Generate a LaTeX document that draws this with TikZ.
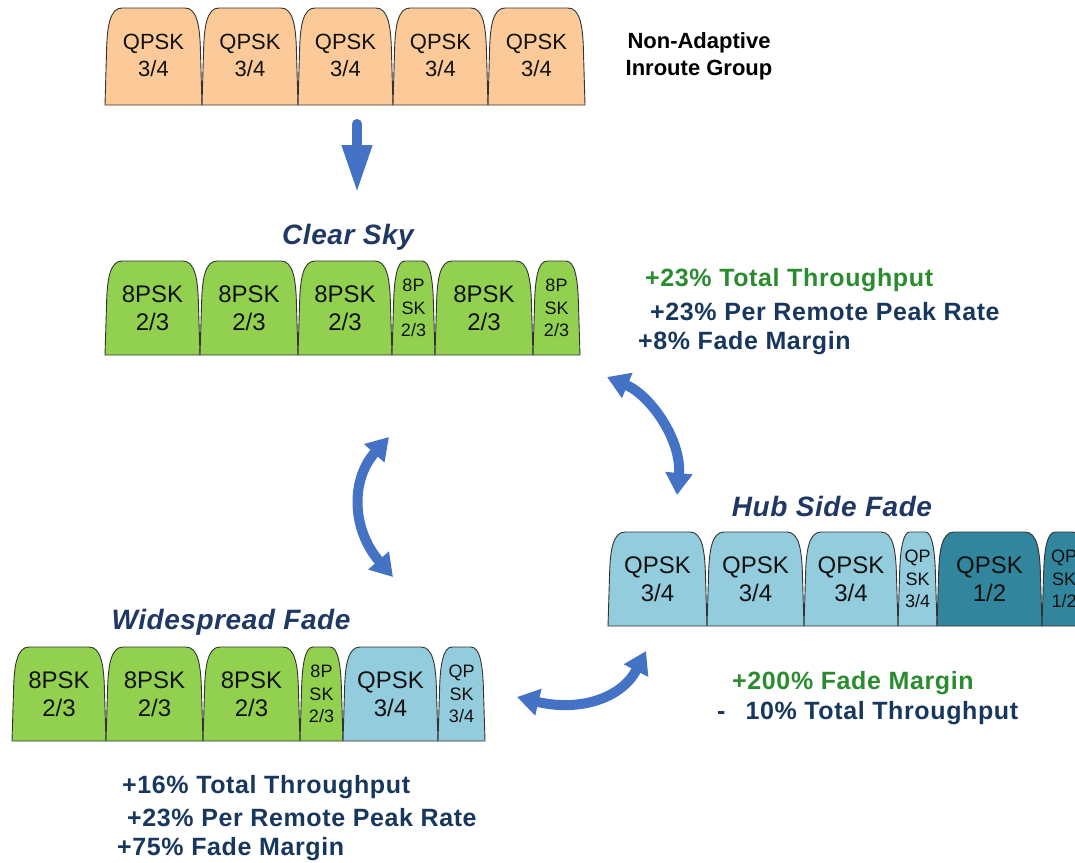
\documentclass[tikz,border=0pt]{standalone}
\usepackage{fontspec}
\setmainfont{Liberation Sans}
\newfontfamily\statfont[LetterSpace=2.5]{Liberation Sans}
\newfontfamily\titlefont[LetterSpace=2]{Liberation Sans}
\usetikzlibrary{arrows.meta}
\definecolor{peach}{HTML}{FCCA98}
\definecolor{sgreen}{HTML}{92D050}
\definecolor{lblue}{HTML}{93CDDD}
\definecolor{dteal}{HTML}{31859C}
\definecolor{slotedge}{HTML}{333333}
\definecolor{arrowblue}{HTML}{4472C4}
\definecolor{titleblue}{HTML}{1F3864}
\definecolor{statblue}{HTML}{17375E}
\definecolor{statgreen}{HTML}{2A8C2F}
\definecolor{slottxt}{HTML}{111111}
\tikzset{
  slotbox/.style={draw=slotedge, line width=0.9pt, line join=round},
  toptxt/.style={inner sep=0pt, align=center, text=slottxt, font=\fontsize{22}{27}\selectfont},
  bigtxt/.style={inner sep=0pt, align=center, text=slottxt, font=\fontsize{24}{28.5}\selectfont},
  smalltxt/.style={inner sep=0pt, align=center, text=slottxt, font=\fontsize{18}{22.5}\selectfont},
  titletxt/.style={inner sep=0pt, text=titleblue, font=\titlefont\bfseries\itshape\fontsize{28}{32}\selectfont},
  statb/.style={inner sep=0pt, anchor=west, text=statblue, font=\statfont\bfseries\fontsize{25}{30}\selectfont},
  statg/.style={statb, text=statgreen},
  blarrow/.style={draw=arrowblue, line width=10pt},
  dbltips/.style={{Triangle[length=22pt,width=26pt]}-{Triangle[length=22pt,width=26pt]}}
}
\newcommand\slot[8]{%
  \draw[slotbox, fill=#6] (#2,#5) -- (#2+1.5,#4+45) .. controls (#2+2,#4+18) and (#2+5,#4) .. ({#2+min(17,0.3*(#3-#2))},#4) -- ({#3-min(17,0.3*(#3-#2))},#4) .. controls (#3-5,#4) and (#3-2,#4+18) .. (#3-1.5,#4+45) -- (#3,#5) -- cycle;
  \node[#8] (#1) at ({(#2+#3)/2},{#4+47}) {#7};
}
\begin{document}
\begin{tikzpicture}[x=1pt,y=-1pt]
\clip (0,0) rectangle (1075,862);
\fill[white] (0,0) rectangle (1075,862);
% Non-adaptive row
\slot{t1}{105}{202}{8}{105}{peach}{QPSK\\3/4}{toptxt}
\slot{t2}{202}{298}{8}{105}{peach}{QPSK\\3/4}{toptxt}
\slot{t3}{298}{393}{8}{105}{peach}{QPSK\\3/4}{toptxt}
\slot{t4}{393}{488}{8}{105}{peach}{QPSK\\3/4}{toptxt}
\slot{t5}{488}{585}{8}{105}{peach}{QPSK\\3/4}{toptxt}
\node[inner sep=0pt, align=center, font=\bfseries\fontsize{22}{27}\selectfont] (nonad) at (699,56) {Non-Adaptive\\Inroute Group};
% Clear sky row
\node[titletxt] (clearsky) at (348,237) {Clear Sky};
\slot{c1}{105}{200}{261}{355}{sgreen}{8PSK\\2/3}{bigtxt}
\slot{c2}{200}{298}{261}{355}{sgreen}{8PSK\\2/3}{bigtxt}
\slot{c3}{298}{392}{261}{355}{sgreen}{8PSK\\2/3}{bigtxt}
\slot{c4}{392}{435}{261}{355}{sgreen}{8P\\SK\\2/3}{smalltxt}
\slot{c5}{435}{533}{261}{355}{sgreen}{8PSK\\2/3}{bigtxt}
\slot{c6}{533}{580}{261}{355}{sgreen}{8P\\SK\\2/3}{smalltxt}
\node[statg] (cs1) at (645,280) {+23\% Total Throughput};
\node[statb] (cs2) at (650,312) {+23\% Per Remote Peak Rate};
\node[statb] (cs3) at (638,343) {+8\% Fade Margin};
% Hub side fade row
\node[titletxt] (hubfade) at (832,506) {Hub Side Fade};
\slot{h1}{608}{707}{532}{626}{lblue}{QPSK\\3/4}{bigtxt}
\slot{h2}{707}{804}{532}{626}{lblue}{QPSK\\3/4}{bigtxt}
\slot{h3}{804}{898}{532}{626}{lblue}{QPSK\\3/4}{bigtxt}
\slot{h4}{898}{937}{532}{626}{lblue}{QP\\SK\\3/4}{smalltxt}
\slot{h5}{937}{1042}{532}{626}{dteal}{QPSK\\1/2}{bigtxt}
\slot{h6}{1042}{1086}{532}{626}{dteal}{QP\\SK\\1/2}{smalltxt}
\node[statg] (hs1) at (732,683) {+200\% Fade Margin};
\node[statb] (hs2) at (717,713) {-\hspace{20pt}10\% Total Throughput};
% Widespread fade row
\node[titletxt] (widefade) at (231,622) {Widespread Fade};
\slot{w1}{12}{106}{647}{741}{sgreen}{8PSK\\2/3}{bigtxt}
\slot{w2}{106}{203}{647}{741}{sgreen}{8PSK\\2/3}{bigtxt}
\slot{w3}{203}{300}{647}{741}{sgreen}{8PSK\\2/3}{bigtxt}
\slot{w4}{300}{343}{647}{741}{sgreen}{8P\\SK\\2/3}{smalltxt}
\slot{w5}{343}{438}{647}{741}{lblue}{QPSK\\3/4}{bigtxt}
\slot{w6}{438}{485}{647}{741}{lblue}{QP\\SK\\3/4}{smalltxt}
\node[statb] (ws1) at (122,787) {+16\% Total Throughput};
\node[statb] (ws2) at (127,818) {+23\% Per Remote Peak Rate};
\node[statb] (ws3) at (117,849) {+75\% Fade Margin};
% Arrows
\coordinate (da) at (357,124);
\coordinate (db) at (357,193);
\draw[blarrow, line cap=round, -{Triangle[length=48pt,width=28pt]}] (da) -- (db);
\coordinate (la) at (389,437);
\coordinate (lb) at (393,577);
\draw[blarrow, dbltips] (la) .. controls (350,480) and (352,530) .. (lb);
\coordinate (ra) at (607,377);
\coordinate (rb) at (677,495);
\draw[blarrow, dbltips] (ra) .. controls (650,395) and (682,440) .. (rb);
\coordinate (ba) at (517,697);
\coordinate (bb) at (646,651);
\draw[blarrow, dbltips] (ba) .. controls (580,712) and (622,698) .. (bb);
\end{tikzpicture}
\end{document}
